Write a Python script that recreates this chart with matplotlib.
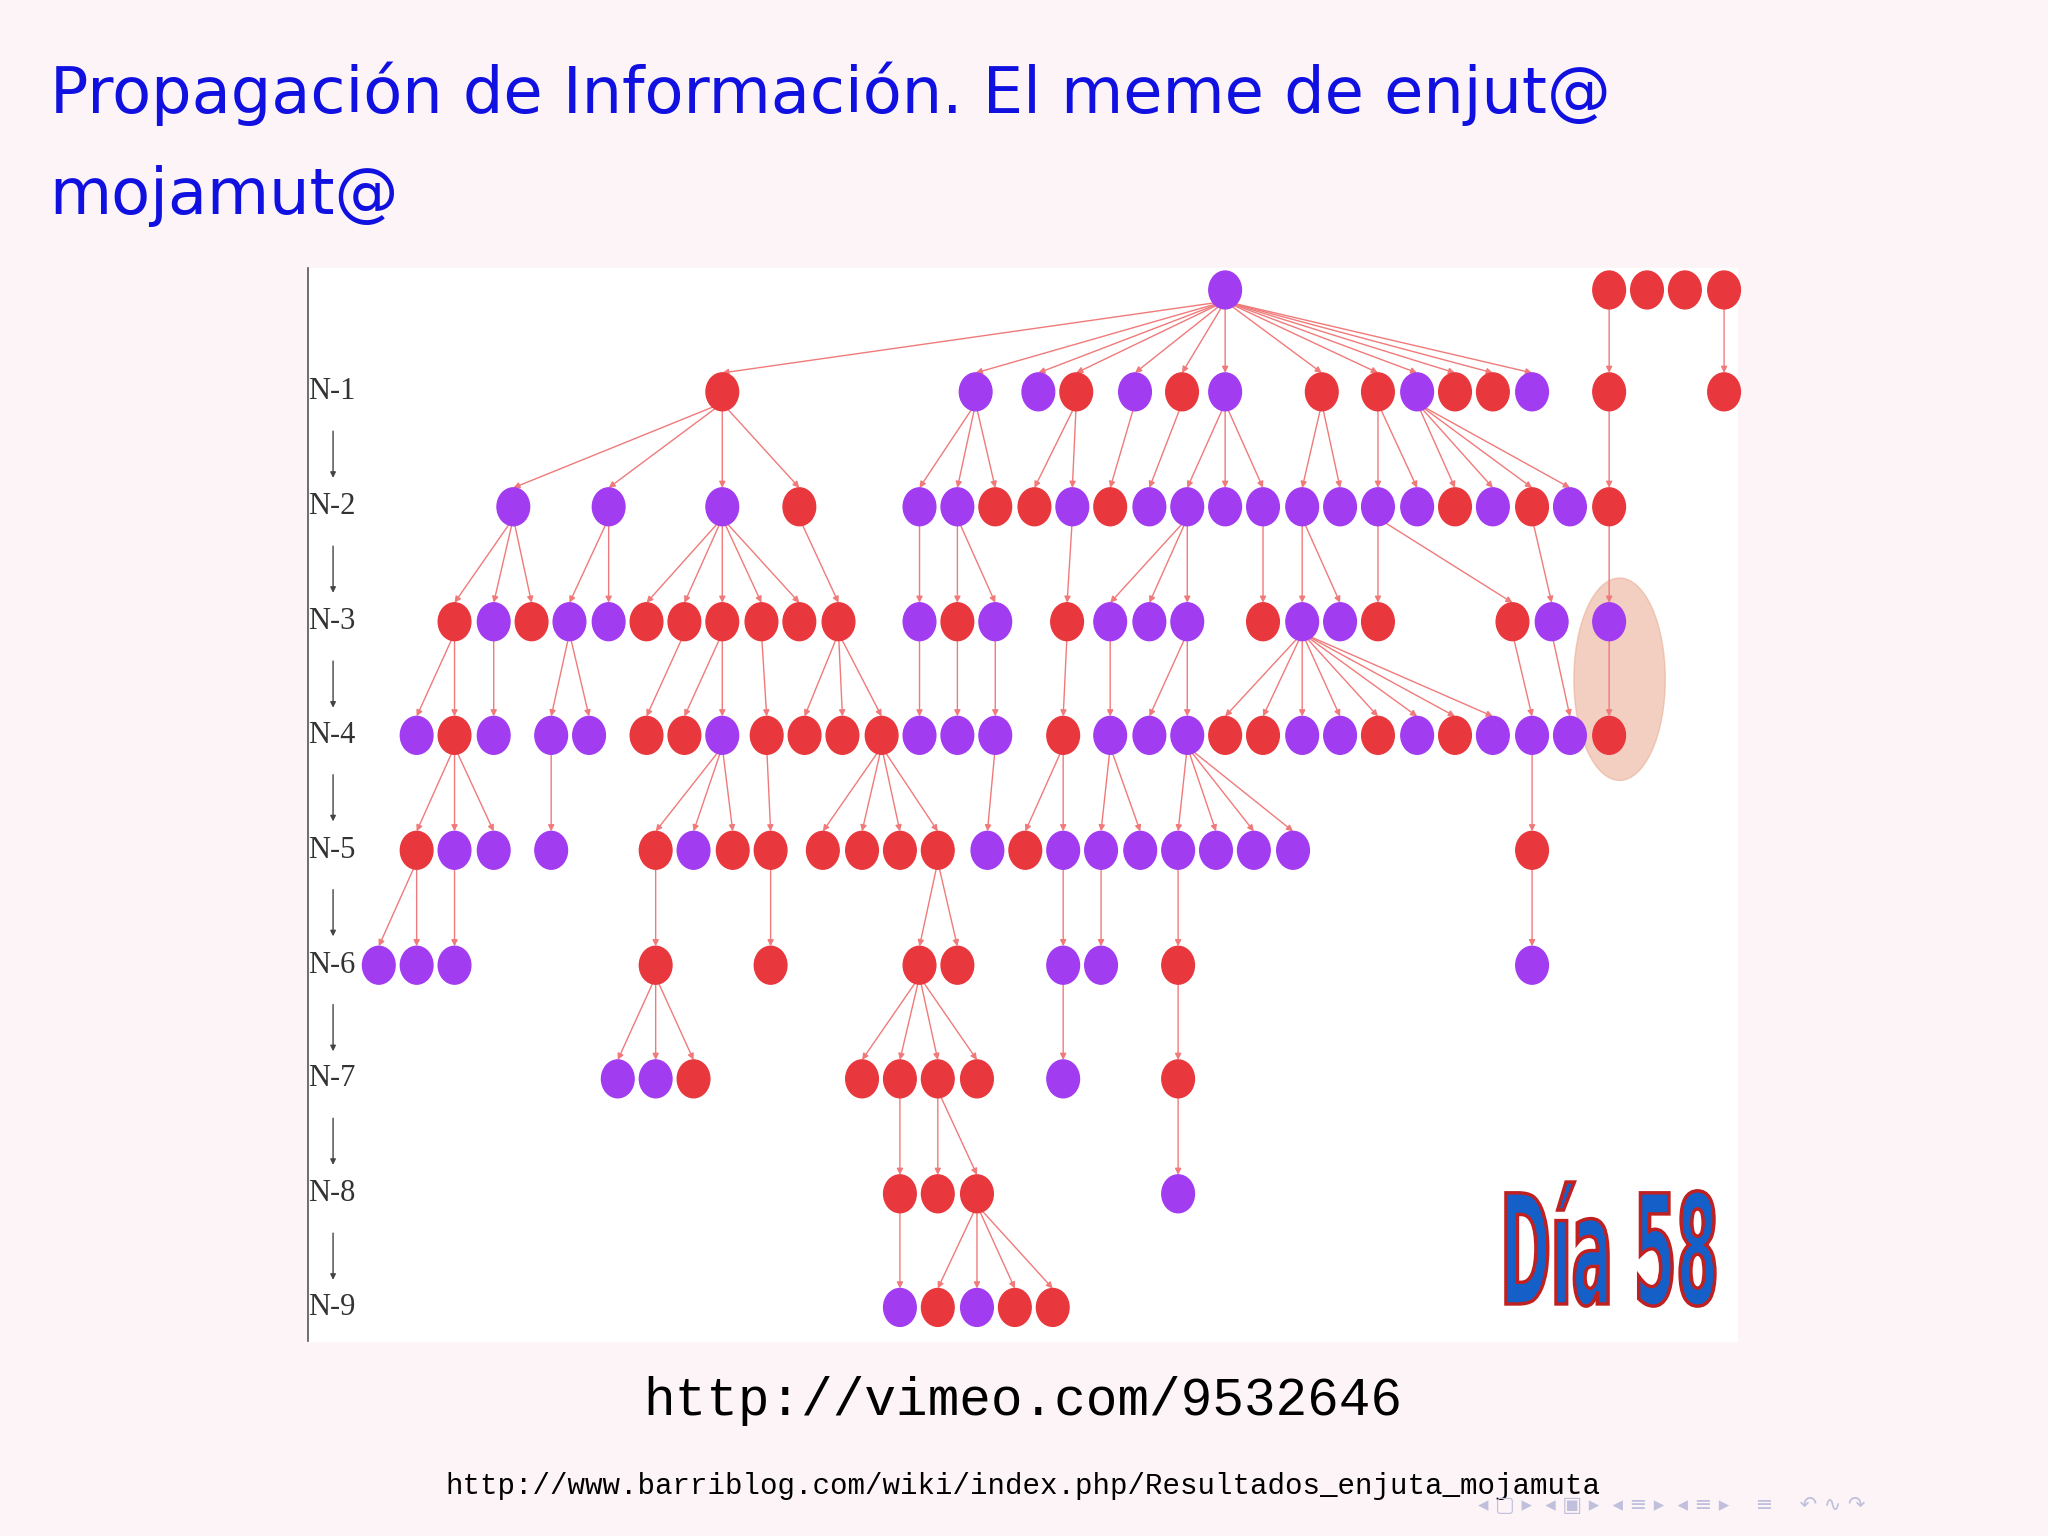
import matplotlib
matplotlib.use("Agg")
import matplotlib.pyplot as plt
from matplotlib.patches import Ellipse, Rectangle, PathPatch
from matplotlib.textpath import TextPath
from matplotlib.font_manager import FontProperties
from matplotlib.transforms import Affine2D
import matplotlib.patheffects as pe

# Tree data: per level lists of (x, colour code, parent x)
level_names = ["N-1", "N-2", "N-3", "N-4", "N-5", "N-6", "N-7", "N-8", "N-9"]
root = [(938, "P")]
extra_top = [(1232, "R"), (1261, "R"), (1290, "R"), (1320, "R")]
n1 = [(553,"R",938),(747,"P",938),(795,"P",938),(824,"R",938),(869,"P",938),(905,"R",938),
      (938,"P",938),(1012,"R",938),(1055,"R",938),(1085,"P",938),(1114,"R",938),(1143,"R",938),
      (1173,"P",938),(1232,"R",1232),(1320,"R",1320)]
n2 = [(393,"P",553),(466,"P",553),(553,"P",553),(612,"R",553),(704,"P",747),(733,"P",747),
      (762,"R",747),(792,"R",824),(821,"P",824),(850,"R",869),(880,"P",905),(909,"P",938),
      (938,"P",938),(967,"P",938),(997,"P",1012),(1026,"P",1012),(1055,"P",1055),(1085,"P",1055),
      (1114,"R",1085),(1143,"P",1085),(1173,"R",1085),(1202,"P",1085),(1232,"R",1232)]
n3 = [(348,"R",393),(378,"P",393),(407,"R",393),(436,"P",466),(466,"P",466),(495,"R",553),
      (524,"R",553),(553,"R",553),(583,"R",553),(612,"R",553),(642,"R",612),(704,"P",704),
      (733,"R",733),(762,"P",733),(817,"R",821),(850,"P",909),(880,"P",909),(909,"P",909),
      (967,"R",967),(997,"P",997),(1026,"P",997),(1055,"R",1055),(1158,"R",1055),(1188,"P",1173),
      (1232,"P",1232)]
n4 = [(319,"P",348),(348,"R",348),(378,"P",378),(422,"P",436),(451,"P",436),(495,"R",524),
      (524,"R",553),(553,"P",553),(587,"R",583),(616,"R",642),(645,"R",642),(675,"R",642),
      (704,"P",704),(733,"P",733),(762,"P",762),(814,"R",817),(850,"P",850),(880,"P",909),
      (909,"P",909),(938,"R",997),(967,"R",997),(997,"P",997),(1026,"P",997),(1055,"R",997),
      (1085,"P",997),(1114,"R",997),(1143,"P",997),(1173,"P",1158),(1202,"P",1188),(1232,"R",1232)]
n5 = [(319,"R",348),(348,"P",348),(378,"P",348),(422,"P",422),(502,"R",553),(531,"P",553),
      (561,"R",553),(590,"R",587),(630,"R",675),(660,"R",675),(689,"R",675),(718,"R",675),
      (756,"P",762),(785,"R",814),(814,"P",814),(843,"P",850),(873,"P",850),(902,"P",909),
      (931,"P",909),(960,"P",909),(990,"P",909),(1173,"R",1173)]
n6 = [(290,"P",319),(319,"P",319),(348,"P",348),(502,"R",502),(590,"R",590),(704,"R",718),
      (733,"R",718),(814,"P",814),(843,"P",843),(902,"R",902),(1173,"P",1173)]
n7 = [(473,"P",502),(502,"P",502),(531,"R",502),(660,"R",704),(689,"R",704),(718,"R",704),
      (748,"R",704),(814,"P",814),(902,"R",902)]
n8 = [(689,"R",689),(718,"R",718),(748,"R",718),(902,"P",902)]
n9 = [(689,"P",689),(718,"R",748),(748,"P",748),(777,"R",748),(806,"R",748)]

level_y = [300, 388, 476, 563, 651, 739, 826, 914, 1001]
root_y = 222
colors = {"R": "#e8383d", "P": "#a23cf0"}
edge_c = "#f07a7a"

fig = plt.figure(figsize=(20.48, 15.36), dpi=100, facecolor="#fdf4f8")
ax = fig.add_axes([0, 0, 1, 1])
ax.set_xlim(0, 1568); ax.set_ylim(1176, 0); ax.axis("off")

ax.add_patch(Rectangle((236, 205), 1094, 822, color="white", zorder=0))
ax.plot([236, 236], [205, 1027], color="#555555", lw=1.2)

for i, name in enumerate(level_names):
    ax.text(254, level_y[i], name, family="Liberation Serif", fontsize=22,
            ha="center", va="center", color="#333333")
    if i < 8:
        ax.annotate("", xy=(255, level_y[i] + 68), xytext=(255, level_y[i] + 28),
                    arrowprops=dict(arrowstyle="-|>", color="#444444", lw=1, mutation_scale=8))

ax.add_patch(Ellipse((1240, 520), 70, 155, color="#e9a98f", alpha=0.55, zorder=1))

W, H = 25, 29
levels = [n1, n2, n3, n4, n5, n6, n7, n8, n9]
prev_y = root_y
for li, lev in enumerate(levels):
    y = level_y[li]
    for x, c, px in lev:
        py = root_y if (li == 0 and px in (1232, 1320)) else prev_y
        ax.annotate("", xy=(x, y - H / 2), xytext=(px, py + H / 2 * 0.6),
                    arrowprops=dict(arrowstyle="-|>", color=edge_c, lw=1.0,
                                    mutation_scale=9, shrinkA=0, shrinkB=0), zorder=2)
        ax.add_patch(Ellipse((x, y), W, H, color=colors[c], zorder=3))
    prev_y = y

for x, c in root:
    ax.add_patch(Ellipse((x, root_y), W, H, color=colors[c], zorder=3))
for x, c in extra_top:
    ax.add_patch(Ellipse((x, root_y), W, H, color=colors[c], zorder=3))

# Condensed "Día 58" via scaled text path (data coords, y inverted)
tp = TextPath((0, 0), "Día 58", size=1, prop=FontProperties(family="DejaVu Sans", weight="bold"))
ext = tp.get_extents()
sx = 160 / ext.width
sy = -95 / ext.height
tr = Affine2D().translate(-ext.x0, -ext.y0).scale(sx, sy).translate(1153, 1000)
path = tr.transform_path(tp)
ax.add_patch(PathPatch(path, facecolor="#1560c8", edgecolor="#c02020", lw=2.5, zorder=5))

ax.text(38, 72, "Propagación de Información. El meme de enjut@", fontsize=46,
        color="#1010e0", family="DejaVu Sans", va="center")
ax.text(38, 150, "mojamut@", fontsize=46, color="#1010e0", family="DejaVu Sans", va="center")

ax.text(783, 1073, "http://vimeo.com/9532646", fontsize=38, family="Liberation Mono",
        ha="center", va="center", color="black")
ax.text(783, 1138, "http://www.barriblog.com/wiki/index.php/Resultados_enjuta_mojamuta",
        fontsize=21, family="Liberation Mono", ha="center", va="center", color="black")
ax.text(1280, 1152, "◂ ▢ ▸  ◂ ▣ ▸  ◂ ≡ ▸  ◂ ≡ ▸    ≡    ↶ ∿ ↷", fontsize=15,
        color="#c0c0dd", ha="center", va="center", family="DejaVu Sans")

fig.savefig("out.png", dpi=100, facecolor=fig.get_facecolor())
